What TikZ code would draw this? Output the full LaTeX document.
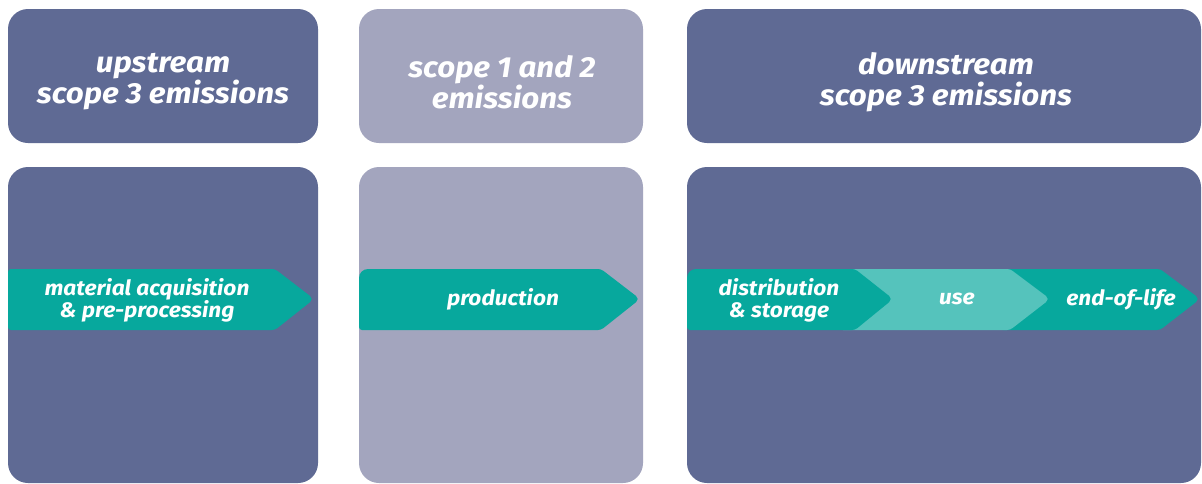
\documentclass[tikz,border=0pt]{standalone}
\usepackage{fontspec}
\newfontfamily\labfont[FakeStretch=1.08]{Fira Sans}
\definecolor{slate}{HTML}{5F6A94}
\definecolor{lav}{HTML}{A3A5BE}
\definecolor{teal}{HTML}{07A89D}
\definecolor{lteal}{HTML}{55C3BC}
\begin{document}
\begin{tikzpicture}[x=1pt,y=1pt,
  box/.style={rounded corners=20pt, inner sep=0pt, draw=none},
  head/.style={text=white, align=center, font=\labfont\bfseries\itshape\fontsize{29}{31}\selectfont},
  lab/.style={text=white, align=center, font=\labfont\bfseries\itshape\fontsize{21}{22}\selectfont},
]
\useasboundingbox (0,0) rectangle (1202,-483);
\fill[white] (0,0) rectangle (1202,-483);
% header boxes
\node[box, fill=slate, minimum width=310, minimum height=134] (h1) at (163,-76) {};
\node[box, fill=lav, minimum width=284, minimum height=134] (h2) at (501,-76) {};
\node[box, fill=slate, minimum width=514, minimum height=134] (h3) at (944,-76) {};
% body boxes
\node[box, fill=slate, minimum width=310, minimum height=316] (b1) at (163,-325) {};
\node[box, fill=lav, minimum width=284, minimum height=316] (b2) at (501,-325) {};
\node[box, fill=slate, minimum width=514, minimum height=316] (b3) at (944,-325) {};
% header texts
\node[head] (t1) at (163,-82) {upstream\\scope 3 emissions};
\node[head] (t2) at (502,-82) {scope 1 and 2\\emissions};
\node[head] (t3) at (946,-82) {downstream\\scope 3 emissions};
% arrows
\fill[teal, rounded corners=3pt] (8,-269) -- (275,-269) [rounded corners=5pt]-- (314,-299) [rounded corners=3pt]-- (275,-330) -- (8,-330) -- cycle;
\fill[teal, rounded corners=9pt] (359,-330) -- (359,-269) [rounded corners=3pt]-- (601,-269) [rounded corners=5pt]-- (640,-299) [rounded corners=3pt]-- (601,-330) -- cycle;
\fill[teal, rounded corners=3pt] (1000,-269) -- (1160,-269) [rounded corners=5pt]-- (1200,-299) [rounded corners=3pt]-- (1160,-330) -- (1000,-330) -- cycle;
\fill[lteal, rounded corners=3pt] (840,-269) -- (1010,-269) [rounded corners=5pt]-- (1050,-299) [rounded corners=3pt]-- (1010,-330) -- (840,-330) -- cycle;
\fill[teal, rounded corners=9pt] (687,-330) -- (687,-269) [rounded corners=3pt]-- (855,-269) [rounded corners=5pt]-- (893,-299) [rounded corners=3pt]-- (855,-330) -- cycle;
% arrow texts
\node[lab] (a1) at (147,-300) {material acquisition\\\& pre-processing};
\node[lab] (a2) at (503,-299) {production};
\node[lab] (a3) at (779,-300) {distribution\\\& storage};
\node[lab] (a4) at (957,-299) {use};
\node[lab] (a5) at (1121,-299) {end-of-life};
\end{tikzpicture}
\end{document}
